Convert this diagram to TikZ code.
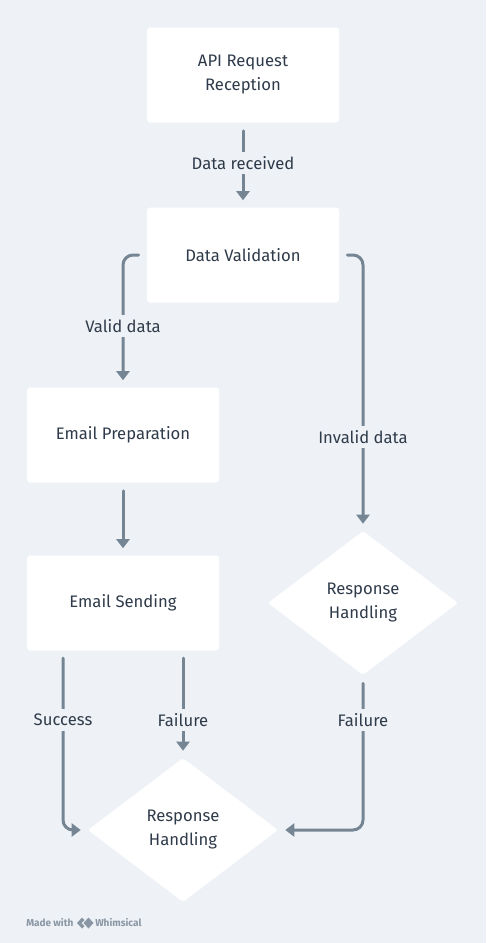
\documentclass[tikz,border=0pt]{standalone}
\usepackage{fontspec}
\setmainfont{Fira Sans}
\usetikzlibrary{arrows.meta,shapes.geometric,calc}
\definecolor{bg}{HTML}{EEF2F6}
\definecolor{ln}{HTML}{768594}
\definecolor{tx}{HTML}{2F3B4A}
\definecolor{ft}{HTML}{8A96A4}
\begin{document}
\begin{tikzpicture}[x=0.75pt,y=-0.75pt,
  font=\fontsize{12.5}{18}\selectfont,
  box/.style={fill=white, rounded corners=2.25pt, minimum width=144pt, minimum height=71.25pt, align=center, text=tx, inner sep=0pt},
  dec/.style={diamond, fill=white, minimum width=142.5pt, minimum height=108pt, align=center, text=tx, inner sep=0pt, rounded corners=1.5pt},
  lbl/.style={fill=bg, text=tx, inner xsep=2pt, inner ysep=3.5pt},
  arr/.style={draw=ln, line width=2.25pt, line cap=round, -{Triangle[width=9.75pt,length=6.75pt]}, rounded corners=7.5pt, shorten <=6pt, shorten >=5.25pt}]
\fill[bg] (0,0) rectangle (486,943);
\useasboundingbox (0,0) rectangle (486,943);
% nodes
\node[box] (b1) at (243,75) {API Request\\Reception};
\node[box] (b2) at (243,255) {Data Validation};
\node[box] (b3) at (123,435) {Email Preparation};
\node[box] (b4) at (123,603) {Email Sending};
\node[dec] (d1) at (363,603) {Response\\Handling};
\node[dec] (d2) at (183,830) {Response\\Handling};
\coordinate (s1) at (63,650);
\coordinate (f1) at (183,650);
% connectors
\draw[arr] (b1) -- (b2);
\node[lbl] (l1) at (243,163) {Data received};
\draw[arr] (b2.west) -| (b3.north);
\node[lbl] (l2) at (123,326) {Valid data};
\draw[arr] (b2.east) -| (d1.north);
\node[lbl] (l3) at (363,437) {Invalid data};
\draw[arr] (b3) -- (b4);
\draw[arr] (s1) |- (d2.west);
\node[lbl] (l4) at (63,720) {Success};
\draw[arr] (f1) -- (d2.north);
\node[lbl] (l5) at (183,720) {Failure};
\draw[arr] (d1.south) |- (d2.east);
\node[lbl] (l6) at (363,720) {Failure};
% footer
\node[anchor=west, text=ft, font=\fontsize{7.5}{9}\selectfont\bfseries, inner sep=0pt] (m1) at (26,923) {Made with};
\fill[ft] (77,923) -- (82,917.5) -- (84.5,920) -- (81.5,923) -- (84.5,926) -- (82,928.5) -- cycle;
\fill[ft] (83.5,923) -- (88.5,917.5) -- (93.5,923) -- (88.5,928.5) -- cycle;
\node[anchor=west, text=ft, font=\fontsize{7.5}{9}\selectfont\bfseries, inner sep=0pt] (m2) at (95,923) {Whimsical};
\end{tikzpicture}
\end{document}
